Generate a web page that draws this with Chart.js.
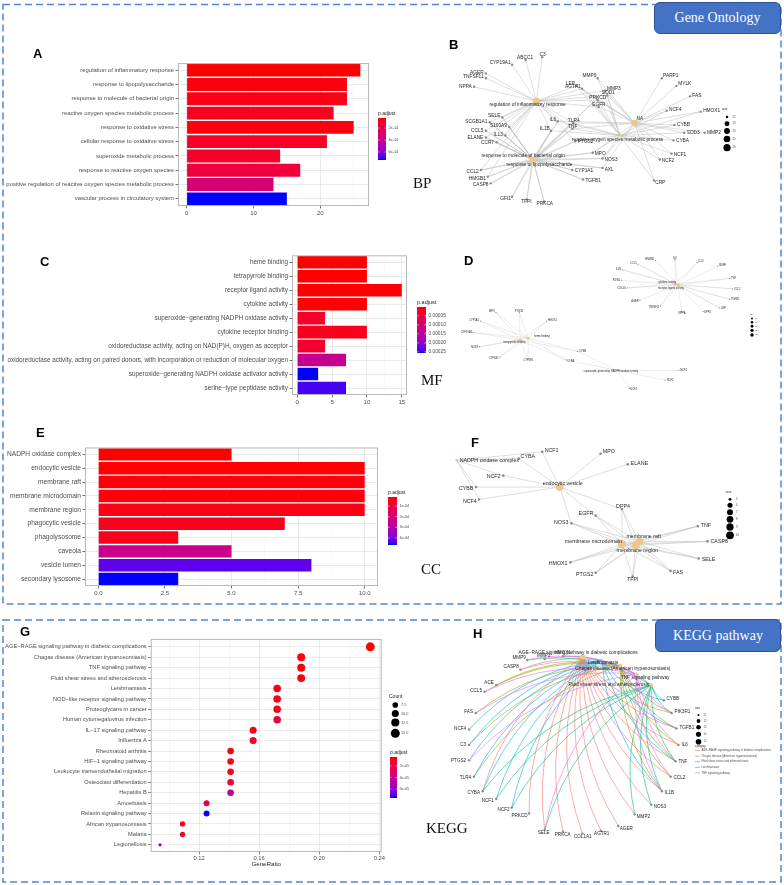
<!DOCTYPE html>
<html>
<head>
<meta charset="utf-8">
<title>GO / KEGG enrichment</title>
<script src="https://cdn.jsdelivr.net/npm/chart.js@4.4.1/dist/chart.umd.min.js"></script>
<style>
  html, body { margin: 0; background: #fff; }
  #page { position: relative; width: 784px; height: 885px; overflow: hidden; font-family: "Liberation Sans", Arial, sans-serif; }
  #page canvas { position: absolute; }
  #deco { z-index: 5; pointer-events: none; }
  .tag { position: absolute; z-index: 6; font-weight: bold; font-size: 13px; line-height: 1; transform: translateY(-50%); color: #000; }
  .sec { position: absolute; z-index: 6; font-family: "Liberation Serif", "Times New Roman", serif; font-size: 15px; line-height: 1; transform: translateY(-50%); color: #111; }
  .badge { position: absolute; z-index: 7; box-sizing: border-box; background: #4472C4; border: 1px solid #2F528F; border-radius: 6px;
           color: #fff; font-family: "Liberation Serif", "Times New Roman", serif; font-size: 14px; display: flex; align-items: center; justify-content: center; }
</style>
</head>
<body>
<div id="page">
  <canvas id="cA" width="372" height="160" style="left:0px;top:58px"></canvas>
  <canvas id="cC" width="410" height="157" style="left:0px;top:250px"></canvas>
  <canvas id="cE" width="381" height="156" style="left:0px;top:442px"></canvas>
  <canvas id="cG" width="392" height="236" style="left:0px;top:634px"></canvas>
  <canvas id="cB" width="290" height="182" style="left:440px;top:35px"></canvas>
  <canvas id="cD" width="295" height="155" style="left:455px;top:245px"></canvas>
  <canvas id="cF" width="290" height="168" style="left:440px;top:425px"></canvas>
  <canvas id="cH" width="260" height="228" style="left:435px;top:628px"></canvas>
  <canvas id="deco" width="784" height="885" style="left:0px;top:0px"></canvas>

  <div class="badge" style="left:654px;top:2px;width:127px;height:32px">Gene Ontology</div>
  <div class="badge" style="left:655px;top:619px;width:126px;height:33px">KEGG pathway</div>

  <div class="tag" style="left:33px;top:53px">A</div>
  <div class="tag" style="left:449px;top:44px">B</div>
  <div class="tag" style="left:40px;top:261px">C</div>
  <div class="tag" style="left:464px;top:260px">D</div>
  <div class="tag" style="left:36px;top:432px">E</div>
  <div class="tag" style="left:471px;top:442px">F</div>
  <div class="tag" style="left:20px;top:631px">G</div>
  <div class="tag" style="left:473px;top:633px">H</div>

  <div class="sec" style="left:413px;top:183px">BP</div>
  <div class="sec" style="left:421px;top:380px">MF</div>
  <div class="sec" style="left:421px;top:569px">CC</div>
  <div class="sec" style="left:426px;top:828px">KEGG</div>
</div>

<script>
// ---------- GO biological process (A) ----------
const bpTerms = [
  'regulation of inflammatory response', 'response to lipopolysaccharide',
  'response to molecule of bacterial origin', 'reactive oxygen species metabolic process',
  'response to oxidative stress', 'cellular response to oxidative stress',
  'superoxide metabolic process', 'response to reactive oxygen species',
  'positive regulation of reactive oxygen species metabolic process', 'vascular process in circulatory system'
];
const bpCount = [26, 24, 24, 22, 25, 21, 14, 17, 13, 15];
const bpPadj = [0.33e-14, 0.5e-14, 0.6e-14, 0.8e-14, 0.45e-14, 0.9e-14, 1.0e-14, 1.5e-14, 3.2e-14, 7.33e-14];
const bpLegendTicks = [2e-14, 4e-14, 6e-14];

// ---------- GO molecular function (C) ----------
const mfTerms = [
  'heme binding', 'tetrapyrrole binding', 'receptor ligand activity', 'cytokine activity',
  'superoxide\u2212generating NADPH oxidase activity', 'cytokine receptor binding',
  'oxidoreductase activity, acting on NAD(P)H, oxygen as acceptor',
  'oxidoreductase activity, acting on paired donors, with incorporation or reduction of molecular oxygen',
  'superoxide\u2212generating NADPH oxidase activator activity', 'serine\u2212type peptidase activity'
];
const mfCount = [10, 10, 15, 10, 4, 10, 4, 7, 3, 7];
const mfPadj = [1e-6, 1e-6, 2e-6, 3e-6, 2.6e-5, 1.6e-5, 3.2e-5, 1.35e-4, 2.56e-4, 2.45e-4];
const mfLegendTicks = [0.00005, 0.0001, 0.00015, 0.0002, 0.00025];

// ---------- GO cellular component (E) ----------
const ccTerms = [
  'NADPH oxidase complex', 'endocytic vesicle', 'membrane raft', 'membrane microdomain', 'membrane region',
  'phagocytic vesicle', 'phagolysosome', 'caveola', 'vesicle lumen', 'secondary lysosome'
];
const ccCount = [5, 10, 10, 10, 10, 7, 3, 5, 8, 3];
const ccPadj = [1.56e-5, 2e-5, 2.4e-5, 2.4e-5, 3.2e-5, 4.4e-5, 4e-5, 2.4e-4, 4.3e-4, 4.66e-4];
const ccLegendTicks = [1e-4, 2e-4, 3e-4, 4e-4];

// ---------- KEGG dot plot (G) ----------
const keggTerms = [
  'AGE\u2212RAGE signaling pathway in diabetic complications', 'Chagas disease (American trypanosomiasis)',
  'TNF signaling pathway', 'Fluid shear stress and atherosclerosis', 'Leishmaniasis',
  'NOD\u2212like receptor signaling pathway', 'Proteoglycans in cancer', 'Human cytomegalovirus infection',
  'IL\u221217 signaling pathway', 'Influenza A', 'Rheumatoid arthritis', 'HIF\u22121 signaling pathway',
  'Leukocyte transendothelial migration', 'Osteoclast differentiation', 'Hepatitis B', 'Amoebiasis',
  'Relaxin signaling pathway', 'African trypanosomiasis', 'Malaria', 'Legionellosis'
];
const keggRatio = [0.234, 0.188, 0.188, 0.188, 0.172, 0.172, 0.172, 0.172, 0.156, 0.156,
                   0.141, 0.141, 0.141, 0.141, 0.141, 0.125, 0.125, 0.109, 0.109, 0.094];
const keggCount = [15, 12, 12, 12, 11, 11, 11, 11, 10, 10, 9, 9, 9, 9, 9, 8, 8, 7, 7, 6];
const keggPadj = [4.3e-6, 5e-6, 4.6e-6, 6e-6, 6.5e-6, 7e-6, 8e-6, 1.7e-5, 8e-6, 1.4e-5,
                  7e-6, 8e-6, 9e-6, 1.3e-5, 4.6e-5, 2.0e-5, 7.57e-5, 7e-6, 8e-6, 5.3e-5];
const keggCountLegend = [7.5, 10, 12.5, 15];
const keggLegendTicks = [2e-5, 4e-5, 6e-5];

// ---------- cnetplot B (layout x, y) ----------
const bpHubs = [
  ['regulation of inflammatory response', 535, 100],
  ['response to lipopolysaccharide', 532, 162],
  ['response to molecule of bacterial origin', 531, 161],
  ['reactive oxygen species metabolic process', 621, 136],
  ['NA', 636, 123]
];
const bpGenes = [
  ['ABCC1', 524, 57], ['C3', 541, 54], ['CYP19A1', 510, 62], ['AGER', 483, 71], ['TNFSF11', 483, 76],
  ['NPPA', 471, 85], ['MMP9', 598, 76], ['LEP', 576, 84], ['MMP3', 606, 89], ['AGTR1', 582, 87],
  ['SOD1', 608, 94], ['PRKCD', 598, 99], ['EGFR', 599, 106], ['PARP1', 664, 76], ['MYLK', 679, 84],
  ['FAS', 693, 95], ['HMOX1', 704, 111], ['NCF4', 669, 110], ['CYBB', 677, 125], ['SOD3', 687, 133],
  ['MMP2', 708, 133], ['CYBA', 676, 141], ['NCF1', 674, 155], ['NCF2', 662, 161], ['CRP', 656, 183],
  ['IL6', 557, 121], ['TLR4', 573, 123], ['TNF', 572, 129], ['IL1B', 550, 131], ['PTGS2', 575, 142],
  ['SELE', 500, 117], ['SCGB1A1', 487, 122], ['CCL5', 483, 131], ['ELANE', 483, 138], ['S100A9', 507, 127],
  ['IL13', 503, 136], ['CCR7', 494, 143], ['MPO', 593, 154], ['NOS3', 603, 160], ['AXL', 603, 170],
  ['CYP1A1', 572, 172], ['TGFB1', 583, 182], ['CCL2', 478, 172], ['HMGB1', 485, 179], ['CASP8', 488, 186],
  ['GFI1', 510, 200], ['TFPI', 525, 203], ['PRKCA', 543, 205]
];
const bpLinks = [
  ['regulation of inflammatory response', ['ABCC1','C3','CYP19A1','AGER','TNFSF11','NPPA','LEP','AGTR1','SOD1','PRKCD','EGFR','SELE','SCGB1A1','CCL5','ELANE','S100A9','IL13','CCR7','IL6','TLR4','TNF','IL1B','PTGS2','CCL2','HMGB1','MMP3']],
  ['response to lipopolysaccharide', ['CCL2','HMGB1','CASP8','GFI1','TFPI','PRKCA','SCGB1A1','CCL5','ELANE','IL13','S100A9','SELE','MPO','NOS3','CYP1A1','AXL','TGFB1','IL6','TLR4','TNF','IL1B','PTGS2','CCR7','MMP3']],
  ['response to molecule of bacterial origin', ['CCL2','HMGB1','CASP8','GFI1','TFPI','PRKCA','SCGB1A1','CCL5','ELANE','IL13','S100A9','SELE','MPO','NOS3','CYP1A1','AXL','TGFB1','IL6','TLR4','TNF','IL1B','PTGS2','CCR7','MMP3']],
  ['reactive oxygen species metabolic process', ['NCF4','CYBB','SOD3','CYBA','NCF1','NCF2','SOD1','PRKCD','EGFR','MMP3','MPO','NOS3','CRP','TNF','IL6','TLR4','LEP','AGTR1','MMP9','HMOX1','IL1B','PTGS2']],
  ['NA', ['PARP1','MYLK','FAS','HMOX1','NCF4','CYBB','SOD3','MMP2','CYBA','NCF1','NCF2','CRP','MMP9','MMP3','SOD1','AGTR1','LEP','EGFR','PRKCD','TLR4','IL6','MPO','NOS3','AXL','TNF']]
];
const bpSizeLegend = [22, 23, 24, 25, 26];

// ---------- cnetplot D ----------
const mfHubs = [
  ['receptor ligand activity', 680, 283],
  ['cytokine activity', 677, 282],
  ['heme binding', 526, 339],
  ['tetrapyrrole binding', 518, 341],
  ['superoxide\u2212generating NADPH oxidase activity', 618, 373]
];
const mfGenes = [
  ['CCL5', 639, 261], ['HMGB1', 657, 257], ['IL6', 677, 256], ['IL13', 700, 259], ['BDNF', 721, 263],
  ['TNF', 733, 276], ['CCL2', 736, 287], ['TGFB1', 733, 298], ['LEP', 723, 307], ['DPP4', 706, 311],
  ['NPPA', 684, 311], ['TNFSF11', 662, 305], ['AGER', 641, 299], ['CXCL8', 628, 286], ['EDN1', 622, 278],
  ['IL1B', 623, 267],
  ['MPO', 493, 312], ['PTGS2', 517, 312], ['HMOX1', 545, 321], ['CYP1A1', 477, 321], ['CYP19A1', 470, 333],
  ['NOS3', 476, 348], ['CYP1B1', 497, 359], ['CYP2E1', 526, 361], ['CYBB', 577, 353], ['CYBA', 565, 362],
  ['NCF1', 681, 373], ['NCF2', 667, 383], ['NCF4', 630, 392]
];
const mfLinks = [
  ['receptor ligand activity', ['CCL5','HMGB1','IL6','IL13','BDNF','TNF','CCL2','TGFB1','LEP','DPP4','NPPA','TNFSF11','AGER','CXCL8','EDN1','IL1B']],
  ['cytokine activity', ['CCL5','IL6','IL13','TNF','CCL2','TGFB1','LEP','TNFSF11','CXCL8','IL1B']],
  ['heme binding', ['MPO','PTGS2','HMOX1','CYP1A1','CYP19A1','NOS3','CYP1B1','CYP2E1','CYBB','CYBA']],
  ['tetrapyrrole binding', ['MPO','PTGS2','HMOX1','CYP1A1','CYP19A1','NOS3','CYP1B1','CYP2E1','CYBB','CYBA']],
  ['superoxide\u2212generating NADPH oxidase activity', ['CYBB','CYBA','NCF1','NCF2','NCF4']]
];
const mfSizeLegend = [5, 7.5, 10, 12.5, 15];

// ---------- cnetplot F ----------
const ccHubs = [
  ['NADPH oxidase complex', 453, 458],
  ['endocytic vesicle', 559, 486],
  ['membrane microdomain', 623, 546],
  ['membrane raft', 641, 543],
  ['membrane region', 637, 547]
];
const ccGenes = [
  ['CYBA', 517, 456], ['NCF1', 541, 449], ['MPO', 601, 451], ['ELANE', 629, 462], ['NCF2', 501, 474],
  ['CYBB', 473, 486], ['NCF4', 476, 499], ['EGFR', 596, 516], ['DPP4', 623, 509], ['NOS3', 571, 524],
  ['TNF', 701, 527], ['CASP8', 711, 543], ['SELE', 702, 561], ['FAS', 673, 574], ['TFPI', 634, 580],
  ['PTGS2', 596, 576], ['HMOX1', 570, 565]
];
const ccLinks = [
  ['NADPH oxidase complex', ['CYBA','NCF1','NCF2','CYBB','NCF4']],
  ['endocytic vesicle', ['CYBA','NCF1','MPO','ELANE','NCF2','CYBB','NCF4','NOS3','DPP4','EGFR']],
  ['membrane microdomain', ['EGFR','DPP4','NOS3','TNF','CASP8','SELE','FAS','TFPI','PTGS2','HMOX1']],
  ['membrane raft', ['EGFR','DPP4','NOS3','TNF','CASP8','SELE','FAS','TFPI','PTGS2','HMOX1']],
  ['membrane region', ['EGFR','DPP4','NOS3','TNF','CASP8','SELE','FAS','TFPI','PTGS2','HMOX1']]
];
const ccSizeLegend = [5, 6, 7, 8, 9, 10];

// ---------- KEGG cnetplot H (circular) ----------
const kgHubs = [
  ['AGE\u2212RAGE signaling pathway in diabetic complications', 583, 654],
  ['Chagas disease (American trypanosomiasis)', 622, 663],
  ['Fluid shear stress and atherosclerosis', 654, 683],
  ['Leishmaniasis', 603, 657],
  ['TNF signaling pathway', 639, 672]
];
const kgGenes = [
  ['MMP3', 544, 656], ['HMOX1', 563, 653], ['MMP9', 526, 657], ['CASP8', 519, 667], ['ACE', 494, 683],
  ['CCL5', 482, 690], ['FAS', 473, 712], ['NCF4', 466, 729], ['C3', 466, 745], ['PTGS2', 466, 761],
  ['TLR4', 471, 778], ['CYBA', 480, 793], ['NCF1', 494, 801], ['NCF2', 510, 810], ['PRKCD', 528, 816],
  ['SELE', 544, 833], ['PRKCA', 563, 835], ['COL1A1', 583, 837], ['AGTR1', 602, 834], ['AGER', 620, 829],
  ['MMP2', 637, 817], ['NOS3', 654, 807], ['IL1B', 665, 793], ['CCL2', 674, 778], ['TNF', 679, 762],
  ['IL6', 682, 745], ['TGFB1', 680, 728], ['PIK3R1', 675, 712], ['CYBB', 667, 699]
];
const kgLinks = [
  ['AGE\u2212RAGE signaling pathway in diabetic complications', ['AGER','AGTR1','CCL2','COL1A1','CYBA','IL1B','IL6','MMP2','NOS3','PIK3R1','PRKCA','PRKCD','SELE','TGFB1','TNF']],
  ['Chagas disease (American trypanosomiasis)', ['ACE','C3','CASP8','CCL2','CCL5','FAS','IL1B','IL6','PIK3R1','TGFB1','TLR4','TNF']],
  ['Fluid shear stress and atherosclerosis', ['CYBA','CYBB','HMOX1','IL1B','MMP2','MMP9','NCF1','NCF2','NOS3','PIK3R1','SELE','TNF']],
  ['Leishmaniasis', ['C3','CYBA','CYBB','IL1B','NCF1','NCF2','NCF4','PTGS2','TGFB1','TLR4','TNF']],
  ['TNF signaling pathway', ['CASP8','CCL2','CCL5','FAS','IL1B','IL6','MMP3','MMP9','PIK3R1','PTGS2','SELE','TNF']]
];
const kgSizeLegend = [11, 12, 13, 14, 15];
const kgCategoryColors = ['#F8766D', '#A3A500', '#00BF7D', '#00B0F6', '#E76BF3'];

// ================= helpers =================
const FONT = '"Liberation Sans", Arial, Helvetica, sans-serif';
Chart.defaults.font.family = FONT;
Chart.defaults.color = '#4D4D4D';

// red -> blue through Lab, like scale_fill_continuous(low = "red", high = "blue")
function lin(c) { c /= 255; return c <= 0.04045 ? c / 12.92 : Math.pow((c + 0.055) / 1.055, 2.4); }
function gam(v) { v = v <= 0.0031308 ? 12.92 * v : 1.055 * Math.pow(v, 1 / 2.4) - 0.055; return Math.round(Math.max(0, Math.min(1, v)) * 255); }
function toLab(r, g, b) {
  const R = lin(r), G = lin(g), B = lin(b);
  const X = (0.4124 * R + 0.3576 * G + 0.1805 * B) / 0.95047;
  const Y = 0.2126 * R + 0.7152 * G + 0.0722 * B;
  const Z = (0.0193 * R + 0.1192 * G + 0.9505 * B) / 1.08883;
  const f = t => t > 0.008856 ? Math.cbrt(t) : 7.787 * t + 16 / 116;
  return [116 * f(Y) - 16, 500 * (f(X) - f(Y)), 200 * (f(Y) - f(Z))];
}
function fromLab(L, a, b) {
  const fy = (L + 16) / 116, fx = fy + a / 500, fz = fy - b / 200;
  const inv = t => t * t * t > 0.008856 ? t * t * t : (t - 16 / 116) / 7.787;
  const X = inv(fx) * 0.95047, Y = inv(fy), Z = inv(fz) * 1.08883;
  const R = 3.2406 * X - 1.5372 * Y - 0.4986 * Z;
  const G = -0.9689 * X + 1.8758 * Y + 0.0415 * Z;
  const B = 0.0557 * X - 0.2040 * Y + 1.0570 * Z;
  return `rgb(${gam(R)},${gam(G)},${gam(B)})`;
}
const LAB_LO = toLab(255, 0, 0), LAB_HI = toLab(0, 0, 255);
function gradColor(t) {
  t = Math.max(0, Math.min(1, t));
  return fromLab(...LAB_LO.map((v, i) => v + (LAB_HI[i] - v) * t));
}
function padjColors(padj) {
  const lo = Math.min(...padj), hi = Math.max(...padj);
  return padj.map(p => gradColor((p - lo) / (hi - lo)));
}
function expFmt(v) {
  const [m, e] = v.toExponential(0).split('e');
  const n = parseInt(e, 10);
  return m + 'e' + (n < 0 ? '-' : '+') + String(Math.abs(n)).padStart(2, '0');
}

// grey panel border like theme_bw
const frame = {
  id: 'frame',
  afterDraw(chart) {
    const a = chart.chartArea, ctx = chart.ctx;
    ctx.save();
    ctx.strokeStyle = '#B8B8B8';
    ctx.lineWidth = 1;
    ctx.strokeRect(a.left + 0.5, a.top + 0.5, a.width - 1, a.height - 1);
    ctx.restore();
  }
};

function barPanel(id, terms, counts, padj, o) {
  return new Chart(document.getElementById(id), {
    type: 'bar',
    data: {
      labels: terms,
      datasets: [{ data: counts, backgroundColor: padjColors(padj), categoryPercentage: 0.9, barPercentage: 1 }]
    },
    options: {
      indexAxis: 'y', responsive: false, animation: false, events: [],
      layout: { padding: { top: o.top, right: o.right, left: 0, bottom: 0 } },
      plugins: { legend: { display: false }, tooltip: { enabled: false } },
      scales: {
        x: {
          min: o.min, max: o.max,
          afterBuildTicks: s => { s.ticks = o.grid.map(v => ({ value: v })); },
          afterFit: s => { s.height = o.xh; },
          ticks: { font: { size: 6 }, padding: 1, maxRotation: 0, callback: v => o.major.includes(v) ? o.fmt(v) : '' },
          grid: {
            color: c => o.major.includes(c.tick.value) ? '#E3E3E3' : '#F1F1F1',
            lineWidth: c => o.major.includes(c.tick.value) ? 0.8 : 0.5,
            tickLength: 2.5,
            tickColor: c => o.major.includes(c.tick.value) ? '#4D4D4D' : 'rgba(0,0,0,0)'
          },
          border: { display: false }
        },
        y: {
          afterFit: s => { s.width = o.yw; },
          ticks: { font: { size: o.fs }, padding: 1.5, autoSkip: false },
          grid: { offset: false, color: '#E3E3E3', lineWidth: 0.8, tickLength: 2.5, tickColor: '#4D4D4D' },
          border: { display: false }
        }
      }
    },
    plugins: [frame]
  });
}

// ================= bar charts =================
barPanel('cA', bpTerms, bpCount, bpPadj, {
  top: 4, right: 3, yw: 178, xh: 12, fs: 5.9, min: -1.3, max: 27.3,
  grid: [0, 5, 10, 15, 20, 25], major: [0, 10, 20], fmt: v => String(v)
});
barPanel('cC', mfTerms, mfCount, mfPadj, {
  top: 4, right: 3, yw: 292, xh: 12, fs: 6.35, min: -0.75, max: 15.75,
  grid: [0, 2.5, 5, 7.5, 10, 12.5, 15], major: [0, 5, 10, 15], fmt: v => String(v)
});
barPanel('cE', ccTerms, ccCount, ccPadj, {
  top: 4, right: 3, yw: 85, xh: 12, fs: 6.6, min: -0.5, max: 10.5,
  grid: [0, 1.25, 2.5, 3.75, 5, 6.25, 7.5, 8.75, 10], major: [0, 2.5, 5, 7.5, 10], fmt: v => v.toFixed(1)
});

// ================= KEGG dot plot =================
const kgMin = Math.min(...keggCount), kgMax = Math.max(...keggCount);
const dotRadius = c => 0.56 * (3 + 5 * Math.sqrt(Math.max(0, (c - kgMin) / (kgMax - kgMin))));
const ratioMajor = [0.12, 0.16, 0.20, 0.24];
const isMajorRatio = v => ratioMajor.some(m => Math.abs(m - v) < 1e-9);
new Chart(document.getElementById('cG'), {
  type: 'scatter',
  data: {
    datasets: [{
      data: keggRatio.map((r, i) => ({ x: r, y: i })),
      pointRadius: keggCount.map(dotRadius),
      pointBackgroundColor: padjColors(keggPadj),
      pointBorderWidth: 0,
      clip: false
    }]
  },
  options: {
    responsive: false, animation: false, events: [],
    layout: { padding: { top: 4, right: 10.3, left: 0, bottom: 0 } },
    plugins: { legend: { display: false }, tooltip: { enabled: false } },
    scales: {
      x: {
        min: 0.0878, max: 0.2416,
        afterBuildTicks: s => { s.ticks = [0.10, 0.12, 0.14, 0.16, 0.18, 0.20, 0.22, 0.24].map(v => ({ value: v })); },
        afterFit: s => { s.height = 18; },
        ticks: { font: { size: 5.8 }, padding: 0, maxRotation: 0, callback: v => isMajorRatio(v) ? v.toFixed(2) : '' },
        title: { display: true, text: 'GeneRatio', font: { size: 6.2 }, color: '#1A1A1A', padding: { top: 0, bottom: 1.5 } },
        grid: {
          color: c => isMajorRatio(c.tick.value) ? '#E3E3E3' : '#F1F1F1',
          lineWidth: 0.7, tickLength: 2.5,
          tickColor: c => isMajorRatio(c.tick.value) ? '#4D4D4D' : 'rgba(0,0,0,0)'
        },
        border: { display: false }
      },
      y: {
        reverse: true, min: -0.76, max: keggTerms.length - 1 + 0.69,
        afterBuildTicks: s => { s.ticks = keggTerms.map((_, i) => ({ value: i })); },
        afterFit: s => { s.width = 150.7; },
        ticks: { font: { size: 5.7 }, padding: 1.5, autoSkip: false, callback: v => keggTerms[v] },
        grid: { color: '#E3E3E3', lineWidth: 0.7, tickLength: 2.5, tickColor: '#4D4D4D' },
        border: { display: false }
      }
    }
  },
  plugins: [frame]
});

// ================= gene-concept networks =================
function network(id, hubs, genes, links, st) {
  const el = document.getElementById(id);
  const left = parseFloat(el.style.left), top = parseFloat(el.style.top);
  const W = el.width, H = el.height;
  const pos = {};
  hubs.concat(genes).forEach(n => { pos[n[0]] = n; });
  const hubN = hubs.map(h => (links.find(l => l[0] === h[0]) || [0, []])[1].length);
  const rad = n => st.r[0] + (st.r[1] - st.r[0]) * Math.sqrt(Math.max(0, (n - st.n[0]) / (st.n[1] - st.n[0])));
  const owner = {};
  links.forEach(([h, gs]) => gs.forEach(g => { (owner[g] = owner[g] || []).push(pos[h]); }));

  const netPlugin = {
    id: 'net',
    beforeDatasetsDraw(chart) {
      const ctx = chart.ctx, sx = chart.scales.x, sy = chart.scales.y;
      ctx.save();
      ctx.lineWidth = st.edgeWidth;
      links.forEach(([hub, members], k) => {
        const h = pos[hub];
        ctx.strokeStyle = st.edgeColors ? st.edgeColors[k] : st.edgeColor;
        members.forEach(g => {
          const p = pos[g];
          const x1 = sx.getPixelForValue(h[1]), y1 = sy.getPixelForValue(h[2]);
          const x2 = sx.getPixelForValue(p[1]), y2 = sy.getPixelForValue(p[2]);
          ctx.beginPath();
          ctx.moveTo(x1, y1);
          if (st.curve) {
            const mx = (x1 + x2) / 2, my = (y1 + y2) / 2;
            ctx.quadraticCurveTo(mx - (y2 - y1) * st.curve, my + (x2 - x1) * st.curve, x2, y2);
          } else {
            ctx.lineTo(x2, y2);
          }
          ctx.stroke();
        });
      });
      ctx.restore();
    },
    afterDatasetsDraw(chart) {
      const ctx = chart.ctx, sx = chart.scales.x, sy = chart.scales.y;
      ctx.save();
      ctx.fillStyle = '#262626';
      ctx.textBaseline = 'middle';
      ctx.font = `${st.fs}px ${FONT}`;
      genes.forEach(([name, x, y]) => {
        let c = st.center;
        if (!c) {
          const hs = owner[name] || [];
          c = [hs.reduce((s, h) => s + h[1], 0) / hs.length, hs.reduce((s, h) => s + h[2], 0) / hs.length];
        }
        let dx = x - c[0], dy = y - c[1];
        const L = Math.hypot(dx, dy) || 1;
        dx /= L; dy /= L;
        ctx.textAlign = dx > 0.4 ? 'left' : dx < -0.4 ? 'right' : 'center';
        ctx.fillText(name, sx.getPixelForValue(x) + dx * st.gap, sy.getPixelForValue(y) + dy * st.gap);
      });
      ctx.font = `${st.hubFs}px ${FONT}`;
      hubs.forEach(([name, x, y]) => {
        const [ox, oy, al] = st.hubLabel[name] || [0, 0, 'center'];
        ctx.textAlign = al;
        ctx.fillText(name, sx.getPixelForValue(x) + ox, sy.getPixelForValue(y) + oy);
      });
      ctx.restore();
    }
  };

  return {
    rad,
    chart: new Chart(el, {
      type: 'scatter',
      data: {
        datasets: [
          { data: hubs.map(h => ({ x: h[1], y: h[2] })), pointRadius: hubN.map(rad),
            pointBackgroundColor: '#EDC68E', pointBorderWidth: 0, clip: false },
          { data: genes.map(g => ({ x: g[1], y: g[2] })), pointRadius: st.geneR,
            pointBackgroundColor: '#8A8A8A', pointBorderWidth: 0, clip: false }
        ]
      },
      options: {
        responsive: false, animation: false, events: [],
        layout: { padding: 0 },
        plugins: { legend: { display: false }, tooltip: { enabled: false } },
        scales: {
          x: { type: 'linear', display: false, min: left, max: left + W },
          y: { type: 'linear', display: false, min: top, max: top + H, reverse: true }
        }
      },
      plugins: [netPlugin]
    })
  };
}

const netB = network('cB', bpHubs, bpGenes, bpLinks, {
  r: [1.3, 3.6], n: [22, 26], geneR: 1.2, fs: 4.8, hubFs: 4.8, gap: 2.5,
  edgeColor: '#BDBDBD', edgeWidth: 0.5,
  hubLabel: {
    'regulation of inflammatory response': [-47, 4, 'left'],
    'response to lipopolysaccharide': [-27, 4, 'left'],
    'response to molecule of bacterial origin': [-51, -4, 'left'],
    'reactive oxygen species metabolic process': [-48, 4, 'left'],
    'NA': [2, -4, 'left']
  }
});
const netD = network('cD', mfHubs, mfGenes, mfLinks, {
  r: [0.6, 1.8], n: [4, 16], geneR: 0.6, fs: 2.6, hubFs: 2.6, gap: 1.5,
  edgeColor: '#CFCFCF', edgeWidth: 0.4,
  hubLabel: {
    'receptor ligand activity': [-20, 3, 'left'],
    'cytokine activity': [-17, -2, 'left'],
    'heme binding': [6, -1.5, 'left'],
    'tetrapyrrole binding': [-17, 2.5, 'left'],
    'superoxide\u2212generating NADPH oxidase activity': [-34, 1, 'left']
  }
});
const netF = network('cF', ccHubs, ccGenes, ccLinks, {
  r: [1.4, 3.9], n: [5, 10], geneR: 1.3, fs: 5.3, hubFs: 5.3, gap: 3,
  edgeColor: '#BDBDBD', edgeWidth: 0.5,
  hubLabel: {
    'NADPH oxidase complex': [3, 0, 'left'],
    'endocytic vesicle': [-17, -4, 'left'],
    'membrane microdomain': [0, -3, 'right'],
    'membrane raft': [-13, -5, 'left'],
    'membrane region': [-19, 5, 'left']
  }
});
const netH = network('cH', kgHubs, kgGenes, kgLinks, {
  r: [1.0, 2.8], n: [11, 15], geneR: 1.2, fs: 4.6, hubFs: 4.8, gap: 3,
  edgeColors: kgCategoryColors, edgeWidth: 0.6, curve: 0.18, center: [574, 745],
  hubLabel: {
    'AGE\u2212RAGE signaling pathway in diabetic complications': [-64, -4, 'left'],
    'Leishmaniasis': [-14, 3, 'left'],
    'Chagas disease (American trypanosomiasis)': [-45, 3, 'left'],
    'TNF signaling pathway': [-16, 3, 'left'],
    'Fluid shear stress and atherosclerosis': [-2, 0, 'right']
  }
});

// ================= frames and legends =================
const deco = document.getElementById('deco').getContext('2d');

function dashedBox(x0, y0, x1, y1) {
  deco.save();
  deco.strokeStyle = '#4F86D6';
  deco.lineWidth = 1.5;
  deco.setLineDash([7, 4]);
  deco.strokeRect(x0, y0, x1 - x0, y1 - y0);
  deco.restore();
}
dashedBox(3, 4.5, 781, 604);
dashedBox(3, 620, 781, 882);

function colorbar(o) {
  const lo = Math.min(...o.padj), hi = Math.max(...o.padj);
  deco.save();
  deco.fillStyle = '#1A1A1A';
  deco.font = `${o.tfs}px ${FONT}`;
  deco.textAlign = 'left';
  deco.textBaseline = 'alphabetic';
  deco.fillText('p.adjust', o.x, o.y - 3);
  for (let i = 0; i < o.h; i++) {
    deco.fillStyle = gradColor(i / (o.h - 1));
    deco.fillRect(o.x, o.y + i, o.w, Math.min(1.5, o.h - i));
  }
  deco.font = `${o.lfs}px ${FONT}`;
  deco.textBaseline = 'middle';
  o.ticks.forEach(t => {
    const yy = o.y + (t - lo) / (hi - lo) * o.h;
    deco.strokeStyle = '#fff';
    deco.lineWidth = 0.5;
    deco.beginPath();
    deco.moveTo(o.x, yy); deco.lineTo(o.x + o.w * 0.2, yy);
    deco.moveTo(o.x + o.w * 0.8, yy); deco.lineTo(o.x + o.w, yy);
    deco.stroke();
    deco.fillStyle = '#4D4D4D';
    deco.fillText(o.fmt(t), o.x + o.w + 2.5, yy);
  });
  deco.restore();
}
colorbar({ x: 378, y: 118, w: 8, h: 42, padj: bpPadj, ticks: bpLegendTicks, fmt: expFmt, tfs: 5, lfs: 3.8 });
colorbar({ x: 417, y: 307, w: 9, h: 46, padj: mfPadj, ticks: mfLegendTicks, fmt: v => v.toFixed(5), tfs: 5.5, lfs: 4.8 });
colorbar({ x: 388, y: 497, w: 9, h: 48, padj: ccPadj, ticks: ccLegendTicks, fmt: expFmt, tfs: 5, lfs: 3.8 });
colorbar({ x: 390, y: 757, w: 7, h: 41, padj: keggPadj, ticks: keggLegendTicks, fmt: expFmt, tfs: 5, lfs: 3.8 });

function sizeLegend(o) {
  deco.save();
  deco.fillStyle = '#1A1A1A';
  deco.font = `${o.tfs}px ${FONT}`;
  deco.textAlign = 'left';
  deco.textBaseline = 'middle';
  deco.fillText(o.title, o.tx, o.ty);
  deco.font = `${o.lfs}px ${FONT}`;
  o.values.forEach((v, i) => {
    deco.fillStyle = '#000';
    deco.beginPath();
    deco.arc(o.x, o.ys[i], o.r(v), 0, Math.PI * 2);
    deco.fill();
    deco.fillStyle = '#4D4D4D';
    deco.fillText(o.fmt ? o.fmt(v) : String(v), o.lx, o.ys[i]);
  });
  deco.restore();
}
sizeLegend({ title: 'Count', tx: 389, ty: 697, x: 395.3, lx: 401, ys: [705, 713.5, 722.5, 733.3],
             values: keggCountLegend, r: dotRadius, fmt: v => v.toFixed(1), tfs: 5, lfs: 3.8 });
sizeLegend({ title: 'size', tx: 722, ty: 109, x: 727, lx: 732.5, ys: [117, 123.7, 131, 139, 147.7],
             values: bpSizeLegend, r: netB.rad, tfs: 3, lfs: 2.8 });
sizeLegend({ title: 'size', tx: 750, ty: 314.5, x: 752, lx: 755, ys: [318.5, 322.3, 326.3, 330.3, 335],
             values: mfSizeLegend, r: netD.rad, fmt: v => v.toFixed(1), tfs: 1.8, lfs: 1.8 });
sizeLegend({ title: 'size', tx: 726, ty: 492.5, x: 730, lx: 736, ys: [499.3, 505.3, 512.3, 519.3, 527, 535.3],
             values: ccSizeLegend, r: netF.rad, tfs: 3, lfs: 2.8 });
sizeLegend({ title: 'size', tx: 695, ty: 708.5, x: 698.5, lx: 703.5, ys: [715, 721, 727.3, 734.3, 741.7],
             values: kgSizeLegend, r: netH.rad, tfs: 2.8, lfs: 2.6 });

// KEGG network category legend
deco.save();
deco.font = `2.8px ${FONT}`;
deco.textBaseline = 'middle';
deco.fillStyle = '#1A1A1A';
deco.fillText('category', 695, 746);
kgHubs.forEach((h, i) => {
  const yy = 750.5 + i * 5.6;
  deco.strokeStyle = kgCategoryColors[i];
  deco.lineWidth = 0.6;
  deco.beginPath(); deco.moveTo(695, yy); deco.lineTo(700, yy); deco.stroke();
  deco.fillStyle = '#4D4D4D';
  deco.fillText(h[0], 701.5, yy);
});
deco.restore();
</script>
</body>
</html>
